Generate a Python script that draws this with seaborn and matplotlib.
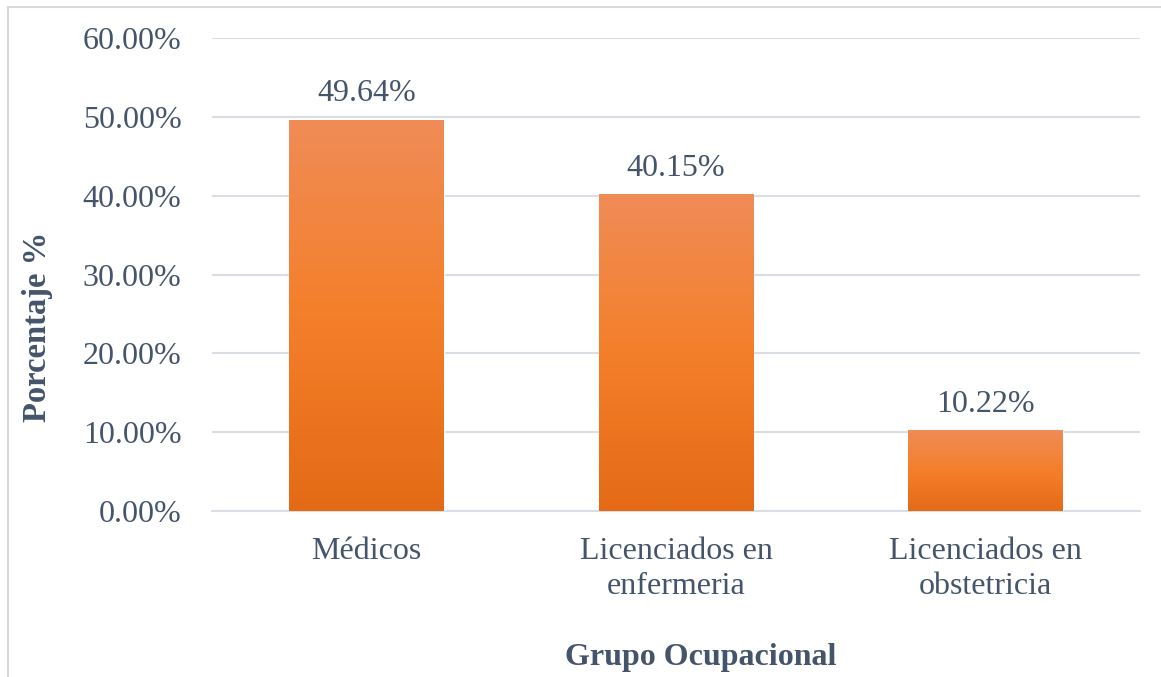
import numpy as np
import pandas as pd
import matplotlib.pyplot as plt
import seaborn as sns
from matplotlib.colors import LinearSegmentedColormap
from matplotlib.patches import Rectangle

grupos = ['Médicos', 'Licenciados en\nenfermeria', 'Licenciados en\nobstetricia']
porcentajes = [49.64, 40.15, 10.22]
yticks = [0, 10, 20, 30, 40, 50, 60]

text_color = '#44546A'
grid_color = '#D9DEE5'

sns.set_style('white')
plt.rcParams['font.family'] = ['Liberation Serif', 'DejaVu Serif']

df = pd.DataFrame({'grupo': grupos, 'pct': porcentajes})

fig = plt.figure(figsize=(11.61, 6.77), dpi=100)
ax = fig.add_axes([212 / 1161, 1 - 511 / 677, (1140 - 212) / 1161, (511 - 38) / 677])

sns.barplot(data=df, x='grupo', y='pct', color='#F47F2A', width=0.5, ax=ax, zorder=3)

# gradient fill like the Excel bars
cmap = LinearSegmentedColormap.from_list('og', ['#E46A16', '#F47F2A', '#F08C57'])
grad = np.linspace(0, 1, 256).reshape(-1, 1)
for bar in ax.patches:
    x0, y0 = bar.get_x(), bar.get_y()
    w, h = bar.get_width(), bar.get_height()
    im = ax.imshow(grad, cmap=cmap, origin='lower', aspect='auto',
                   extent=[x0, x0 + w, y0, y0 + h], zorder=4)
    im.set_clip_path(bar)
    ax.text(x0 + w / 2, h + 1.45, f'{h:.2f}%', ha='center', va='bottom',
            fontsize=23, color=text_color, zorder=5)

ax.set_xlim(-0.5, 2.5)
ax.set_ylim(0, 60)
ax.set_yticks(yticks)
ax.set_yticklabels([f'{v:.2f}%' for v in yticks], fontsize=23, color=text_color)
ax.yaxis.grid(True, color=grid_color, linewidth=1.5, zorder=0)
ax.tick_params(axis='y', length=0, pad=22)

ax.set_xticks([0, 1, 2])
ax.set_xticklabels(grupos, fontsize=23, color=text_color, linespacing=1.25)
ax.set_xticks([-0.5, 0.5, 1.5, 2.5], minor=True)
ax.tick_params(axis='x', which='major', length=0, pad=19)
ax.tick_params(axis='x', which='minor', length=8, width=1.5, color=grid_color, direction='out')

for s in ['top', 'right', 'left']:
    ax.spines[s].set_visible(False)
ax.spines['bottom'].set_color(grid_color)
ax.spines['bottom'].set_linewidth(1.5)

ax.set_xlabel('')
ax.set_ylabel('')
fig.text(701 / 1161, 1 - 658 / 677, 'Grupo Ocupacional', ha='center', va='center',
         fontsize=23, fontweight='bold', color=text_color)
fig.text(38 / 1161, 1 - 327 / 677, 'Porcentaje %', ha='center', va='center', rotation=90,
         fontsize=23.5, fontweight='bold', color=text_color)

# chart area border
fig.add_artist(Rectangle((8 / 1161, -0.05), 1.2, 1 - 7 / 677 + 0.05, transform=fig.transFigure,
                         fill=False, edgecolor='#D9D9D9', linewidth=1.5))

fig.savefig('out.png', dpi=100)
